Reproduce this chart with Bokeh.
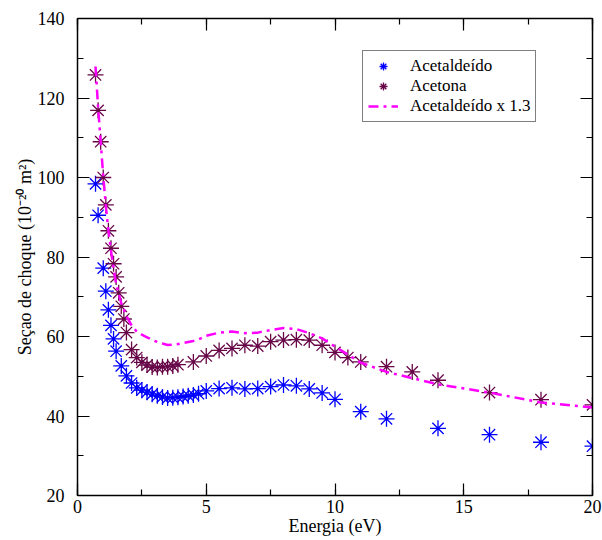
from bokeh.plotting import figure
from bokeh.models import Range1d, SingleIntervalTicker, LinearAxis, Legend, LegendItem
from bokeh.embed import file_html
from bokeh.resources import INLINE

# Acetaldeído (blue asterisks)
energy_aldehyde = [0.7, 0.8, 1.0, 1.1, 1.2, 1.3, 1.4, 1.5, 1.7, 1.9, 2.1, 2.3, 2.5, 2.7,
                   2.9, 3.1, 3.3, 3.5, 3.7, 3.9, 4.1, 4.3, 4.5, 4.7, 5.0, 5.5, 6.0, 6.5,
                   7.0, 7.5, 8.0, 8.5, 9.0, 9.5, 10.0, 11.0, 12.0, 14.0, 16.0, 18.0, 20.0]
xs_aldehyde = [98.4, 90.5, 77.2, 71.4, 66.7, 62.8, 59.4, 56.3, 52.6, 50.1, 48.3, 47.1, 46.5, 46.0,
               45.5, 45.1, 44.8, 44.5, 44.6, 44.7, 44.9, 45.1, 45.3, 45.6, 46.3, 46.9, 47.1, 46.8,
               46.9, 47.4, 47.8, 47.6, 46.8, 45.8, 44.2, 41.1, 39.3, 36.9, 35.3, 33.4, 32.4]

# Acetona (maroon asterisks)
energy_acetone = [0.7, 0.8, 0.9, 1.0, 1.1, 1.2, 1.3, 1.4, 1.5, 1.6, 1.7, 1.8, 1.9, 2.1,
                  2.3, 2.5, 2.7, 2.9, 3.1, 3.3, 3.5, 3.7, 3.9, 4.5, 5.0, 5.5, 6.0, 6.5,
                  7.0, 7.5, 8.0, 8.5, 9.0, 9.5, 10.0, 10.5, 11.0, 12.0, 13.0, 14.0, 16.0,
                  18.0, 20.0]
xs_acetone = [125.8, 116.9, 109.0, 100.0, 93.1, 86.6, 82.2, 78.3, 75.0, 71.0, 67.6, 64.4, 61.0, 56.7,
              54.7, 53.5, 52.8, 52.3, 52.2, 52.4, 52.4, 52.6, 52.9, 53.6, 55.1, 56.5, 57.0, 57.8,
              57.6, 58.7, 59.1, 59.2, 59.1, 57.8, 56.0, 54.7, 53.6, 52.4, 51.1, 49.0, 45.9,
              44.1, 42.8]

# Acetaldeído scaled by 1.3 (dash-dot line)
scale_factor = 1.3
xs_aldehyde_scaled = [v * scale_factor for v in xs_aldehyde]

# axis ranges and tick intervals
x_start, x_end = 0, 20
y_start, y_end = 20, 140
x_tick_interval = 5
y_tick_interval = 20

FONT = "Liberation Serif"
TICK_COLOR = "black"
TICK_W = 1.2

p = figure(width=602, height=540, x_range=Range1d(x_start, x_end), y_range=Range1d(y_start, y_end),
           output_backend="svg", toolbar_location=None,
           min_border_left=77, min_border_right=10, min_border_top=18, min_border_bottom=45)
p.grid.visible = False
p.outline_line_color = "black"
p.outline_line_width = 1

def style_axis(ax, interval, labels=True):
    ax.ticker = SingleIntervalTicker(interval=interval, num_minor_ticks=2)
    ax.major_tick_in = 12
    ax.major_tick_out = 0
    ax.minor_tick_in = 6
    ax.minor_tick_out = 0
    ax.major_tick_line_color = TICK_COLOR
    ax.minor_tick_line_color = TICK_COLOR
    ax.major_tick_line_width = TICK_W
    ax.minor_tick_line_width = TICK_W
    ax.axis_line_color = "black"
    ax.axis_line_width = 1.5
    ax.major_label_text_font = FONT
    ax.major_label_text_color = "black"
    if labels:
        ax.major_label_text_font_size = "18px"
    else:
        ax.major_label_text_font_size = "1px"
        ax.major_label_text_alpha = 0
        ax.major_label_standoff = 0
    ax.axis_label_text_font = FONT
    ax.axis_label_text_font_size = "18px"
    ax.axis_label_text_font_style = "normal"
    ax.axis_label_text_color = "black"

xa = p.xaxis[0]
style_axis(xa, x_tick_interval)
xa.axis_label = "Energia (eV)"
xa.major_label_standoff = 4
xa.axis_label_standoff = 0

ya = p.yaxis[0]
style_axis(ya, y_tick_interval)
ya.axis_label = "Seçao de choque (10⁻²⁰ m²)"
ya.major_label_standoff = 13
ya.axis_label_standoff = 0

top = LinearAxis()
style_axis(top, x_tick_interval, labels=False)
p.add_layout(top, "above")

right = LinearAxis()
style_axis(right, y_tick_interval, labels=False)
p.add_layout(right, "right")

r_ald = p.scatter(energy_aldehyde, xs_aldehyde, marker="asterisk", size=16,
                  line_color="#0000ff", line_width=1.3)
r_ace = p.scatter(energy_acetone, xs_acetone, marker="asterisk", size=16,
                  line_color="#670748", line_width=1.3)
r_line = p.line(energy_aldehyde, xs_aldehyde_scaled, line_color="#ff00ff", line_width=2.5,
                line_dash="10 5 3 5")

legend = Legend(items=[
    LegendItem(label="Acetaldeído", renderers=[r_ald]),
    LegendItem(label="Acetona", renderers=[r_ace]),
    LegendItem(label="Acetaldeído x 1.3", renderers=[r_line]),
], location=(285, 373))
legend.margin = 0
legend.padding = 5
legend.spacing = 0
legend.glyph_width = 30
legend.glyph_height = 20
legend.label_height = 20
legend.label_standoff = 12
legend.label_text_font = FONT
legend.label_text_font_size = "17px"
legend.label_text_color = "black"
legend.border_line_color = "black"
legend.border_line_width = 1
legend.background_fill_color = "white"
legend.background_fill_alpha = 1
p.add_layout(legend, "center")

open("out.html", "w").write(file_html(p, INLINE))
